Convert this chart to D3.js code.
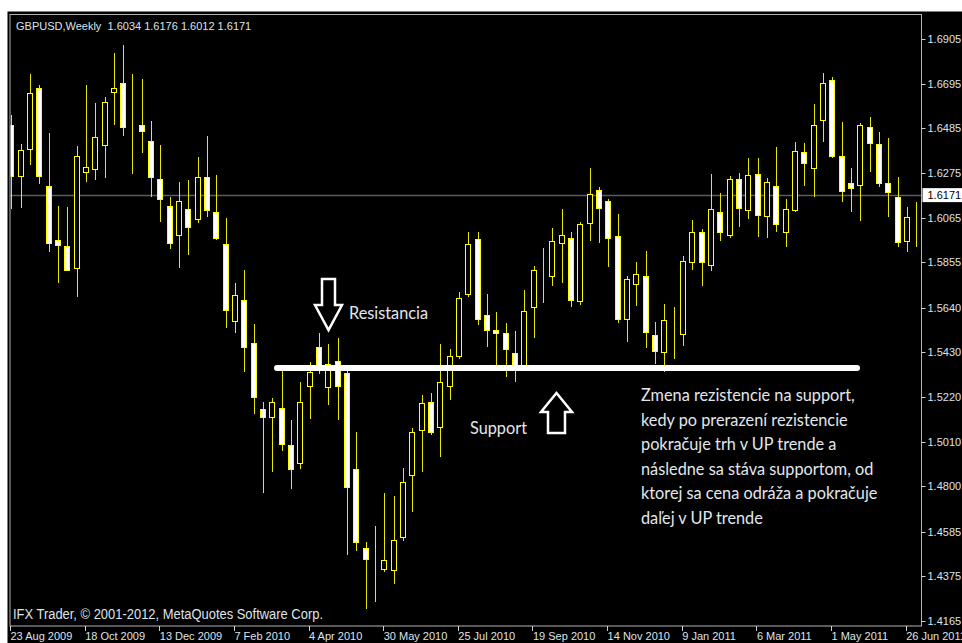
<!DOCTYPE html>
<html lang="en">
  <head>
    <meta charset="utf-8">
    <title>GBPUSD Weekly</title>
    <script src="https://d3js.org/d3.v7.min.js"></script>
    <style>
    body {margin: 0; background: #ffffff;}
    svg {display: block;}
    .axis-label {font-family: "Liberation Sans", Arial, sans-serif; font-size: 11px; fill: #dde3ea;}
    .note {font-family: Lato, sans-serif; font-size: 16.3px; fill: #e2e7ee;}
    </style>
  </head>
  <body>
  <script>

  // weekly GBPUSD bars, first bar = week of 23 Aug 2009
  var open = [1.6501,1.6261,1.6388,1.6676,1.6214,1.5960,1.5931,1.5828,1.6280,1.6294,
    1.6407,1.6657,1.6699,1.6492,1.6501,1.6426,1.6247,1.6120,1.5983,1.6106,
    1.6059,1.6256,1.6092,1.5941,1.5578,1.5677,1.5475,1.5164,1.5126,1.5168,
    1.4994,1.4909,1.5272,1.5456,1.5267,1.5390,1.5333,1.4881,1.4509,1.4462,
    1.4410,1.4405,1.4561,1.4853,1.5065,1.5197,1.5079,1.5272,1.5413,1.5705,
    1.5964,1.5606,1.5536,1.5522,1.5427,1.5371,1.5644,1.5814,1.5790,1.5946,
    1.5969,1.5672,1.6040,1.6195,1.6143,1.5979,1.5588,1.5752,1.5790,1.5512,
    1.5432,1.5545,1.5517,1.5856,1.5997,1.5842,1.6092,1.5983,1.6247,1.6101,
    1.6271,1.6073,1.6214,1.5997,1.6101,1.6374,1.6299,1.6525,1.6713,1.6355,
    1.6228,1.6219,1.6492,1.6412,1.6228,1.6162,1.5955,1.6054];

  var high = [1.6548,1.6412,1.6742,1.6690,1.6464,1.6120,1.6115,1.6402,1.6690,1.6605,
    1.6633,1.6840,1.6878,1.6742,1.6718,1.6520,1.6407,1.6162,1.6233,1.6242,
    1.6351,1.6450,1.6266,1.6063,1.5757,1.5818,1.5564,1.5197,1.5216,1.5343,
    1.5112,1.5291,1.5385,1.5522,1.5470,1.5498,1.5343,1.5055,1.4537,1.4613,
    1.4768,1.4754,1.4886,1.5074,1.5230,1.5239,1.5470,1.5446,1.5715,1.5997,
    1.5997,1.5705,1.5621,1.5569,1.5531,1.5724,1.5837,1.5922,1.6016,1.6106,
    1.5997,1.6045,1.6299,1.6209,1.6153,1.6082,1.5790,1.5856,1.5908,1.5574,
    1.5658,1.5644,1.5884,1.6054,1.6012,1.6271,1.6181,1.6261,1.6275,1.6346,
    1.6346,1.6252,1.6398,1.6153,1.6421,1.6417,1.6600,1.6746,1.6727,1.6516,
    1.6299,1.6511,1.6539,1.6468,1.6440,1.6256,1.6115,1.6139];

  var low = [1.6106,1.6110,1.6313,1.6224,1.5903,1.5757,1.5814,1.5691,1.6233,1.6242,
    1.6252,1.6501,1.6450,1.6271,1.6370,1.6162,1.6045,1.5917,1.5828,1.5889,
    1.6040,1.6068,1.5960,1.5545,1.5522,1.5338,1.5140,1.4768,1.4867,1.4966,
    1.4787,1.4881,1.5117,1.5329,1.5183,1.5112,1.4476,1.4495,1.4222,1.4255,
    1.4396,1.4340,1.4542,1.4679,1.4867,1.5041,1.4938,1.5206,1.5399,1.5691,
    1.5559,1.5456,1.5371,1.5314,1.5291,1.5366,1.5498,1.5663,1.5743,1.5757,
    1.5644,1.5654,1.5955,1.5946,1.5832,1.5569,1.5479,1.5649,1.5451,1.5376,
    1.5338,1.5399,1.5460,1.5818,1.5743,1.5814,1.5955,1.5969,1.6021,1.6059,
    1.5974,1.5969,1.5997,1.5927,1.6092,1.6214,1.6162,1.6421,1.6346,1.6139,
    1.6092,1.6049,1.6280,1.6209,1.6068,1.5927,1.5903,1.5927];

  var close = [1.6261,1.6384,1.6652,1.6261,1.5946,1.5936,1.5818,1.6355,1.6304,1.6445,
    1.6610,1.6676,1.6492,1.6490,1.6473,1.6256,1.6153,1.5946,1.6143,1.6021,
    1.6256,1.6101,1.5969,1.5630,1.5701,1.5456,1.5220,1.5126,1.5197,1.4999,
    1.4881,1.5197,1.5338,1.5371,1.5376,1.5272,1.4796,1.4537,1.4457,1.4460,
    1.4453,1.4547,1.4820,1.5055,1.5192,1.5055,1.5291,1.5413,1.5687,1.5941,
    1.5588,1.5536,1.5522,1.5446,1.5371,1.5625,1.5818,1.5812,1.5955,1.5983,
    1.5677,1.6035,1.6176,1.6110,1.5969,1.5588,1.5776,1.5800,1.5526,1.5437,
    1.5583,1.5543,1.5861,1.5997,1.5856,1.6106,1.5997,1.6247,1.6110,1.6266,
    1.6077,1.6233,1.6035,1.6106,1.6379,1.6322,1.6501,1.6699,1.6355,1.6190,
    1.6205,1.6501,1.6417,1.6228,1.6186,1.5950,1.6068,1.6052];

  var priceTicks = [1.6905, 1.6695, 1.6485, 1.6275, 1.6065, 1.5855, 1.5640,
    1.5430, 1.5220, 1.5010, 1.4800, 1.4585, 1.4375, 1.4165];

  var timeLabels = ["23 Aug 2009", "18 Oct 2009", "13 Dec 2009", "7 Feb 2010", "4 Apr 2010",
    "30 May 2010", "25 Jul 2010", "19 Sep 2010", "14 Nov 2010", "9 Jan 2011",
    "6 Mar 2011", "1 May 2011", "26 Jun 2011"];
  var timeLabelBars = [0, 8, 16, 24, 32, 40, 48, 56, 64, 72, 80, 88, 96];

  var lastPrice = 1.6171;
  var levelPrice = 1.5357;
  var header = "GBPUSD,Weekly  1.6034 1.6176 1.6012 1.6171";
  var noteLines = ["Zmena rezistencie na support,",
    "kedy po prerazení rezistencie",
    "pokračuje trh v UP trende a",
    "následne sa stáva supportom, od",
    "ktorej sa cena odráža a pokračuje",
    "daľej v UP trende"];

  var w = 962;
  var h = 643;
  var plot = {left: 10, top: 14.5, right: 921.5, bottom: 626};

  var data = open.map(function(o, i) {
    return {i: i, open: o, high: high[i], low: low[i], close: close[i]};
  });

  var svg = d3.select("body")
      .append("svg")
      .attr("width", w)
      .attr("height", h);

  var xScale = d3.scaleLinear()
      .domain([0, data.length - 1])
      .range([11.7, 11.7 + 9.33 * (data.length - 1)]);

  var yScale = d3.scaleLinear()
      .domain([1.4165, 1.6905])
      .range([621, 39.3]);

  // black terminal background
  svg.append("rect")
     .attr("x", 7.5)
     .attr("y", 11.5)
     .attr("width", w - 7.5)
     .attr("height", h - 11.5)
     .attr("fill", "#000000");

  // current price line
  svg.append("line")
     .attr("x1", plot.left)
     .attr("x2", plot.right)
     .attr("y1", Math.round(yScale(lastPrice)) + 0.5)
     .attr("y2", Math.round(yScale(lastPrice)) + 0.5)
     .attr("stroke", "#545c66")
     .attr("stroke-width", 1.5);

  // candles
  var candles = svg.append("g").attr("clip-path", "url(#plotclip)");

  svg.append("clipPath")
     .attr("id", "plotclip")
     .append("rect")
     .attr("x", plot.left + 0.5)
     .attr("y", plot.top)
     .attr("width", plot.right - plot.left - 0.5)
     .attr("height", plot.bottom - plot.top);

  candles.selectAll(".wick")
     .data(data)
     .join("line")
     .attr("class", "wick")
     .attr("x1", d => Math.floor(xScale(d.i)) + 0.5)
     .attr("x2", d => Math.floor(xScale(d.i)) + 0.5)
     .attr("y1", d => Math.round(yScale(d.high)))
     .attr("y2", d => Math.round(yScale(d.low)))
     .attr("stroke", "#e8e800")
     .attr("stroke-width", 1);

  candles.selectAll(".body")
     .data(data)
     .join("rect")
     .attr("class", "body")
     .attr("x", d => Math.floor(xScale(d.i)) - 2.5)
     .attr("y", d => Math.round(yScale(Math.max(d.open, d.close))) + 0.5)
     .attr("width", 5)
     .attr("height", d => Math.round(yScale(Math.min(d.open, d.close))) - Math.round(yScale(Math.max(d.open, d.close))))
     .attr("fill", d => d.close < d.open ? "#ffffff" : "#000000")
     .attr("stroke", "#ffff00")
     .attr("stroke-width", 1);

  // frame
  svg.append("rect")
     .attr("x", plot.left)
     .attr("y", plot.top)
     .attr("width", plot.right - plot.left)
     .attr("height", plot.bottom - plot.top)
     .attr("fill", "none")
     .attr("stroke", "#b4b4b4")
     .attr("stroke-width", 1);

  // price scale
  var yAxis = svg.append("g");
  yAxis.selectAll("line")
     .data(priceTicks)
     .join("line")
     .attr("x1", plot.right)
     .attr("x2", plot.right + 4)
     .attr("y1", d => Math.round(yScale(d)) + 0.5)
     .attr("y2", d => Math.round(yScale(d)) + 0.5)
     .attr("stroke", "#d0d0d0");
  yAxis.selectAll("text")
     .data(priceTicks)
     .join("text")
     .attr("class", "axis-label")
     .attr("x", plot.right + 6)
     .attr("y", d => yScale(d))
     .attr("dy", "0.36em")
     .text(d => d.toFixed(4));

  svg.append("rect")
     .attr("x", plot.right + 1)
     .attr("y", yScale(lastPrice) - 7)
     .attr("width", w - plot.right - 1)
     .attr("height", 14)
     .attr("fill", "#ffffff");
  svg.append("text")
     .attr("class", "axis-label")
     .style("fill", "#000000")
     .attr("x", plot.right + 6)
     .attr("y", yScale(lastPrice))
     .attr("dy", "0.36em")
     .text(lastPrice.toFixed(4));

  // time scale
  var xAxis = svg.append("g");
  xAxis.selectAll("line")
     .data(timeLabelBars)
     .join("line")
     .attr("x1", d => Math.round(xScale(d) - 1.7) + 0.5)
     .attr("x2", d => Math.round(xScale(d) - 1.7) + 0.5)
     .attr("y1", plot.bottom)
     .attr("y2", plot.bottom + 5)
     .attr("stroke", "#d0d0d0");
  xAxis.selectAll("text")
     .data(timeLabelBars)
     .join("text")
     .attr("class", "axis-label")
     .attr("x", d => xScale(d) - 1.2)
     .attr("y", 640)
     .text((d, i) => timeLabels[i]);

  svg.append("text")
     .attr("class", "axis-label")
     .attr("x", 16)
     .attr("y", 30)
     .style("white-space", "pre")
     .text(header);

  svg.append("text")
     .attr("class", "axis-label")
     .style("font-size", "14px")
     .attr("x", 13)
     .attr("y", 619)
     .attr("textLength", 310)
     .attr("lengthAdjust", "spacingAndGlyphs")
     .text("IFX Trader, \u00a9 2001-2012, MetaQuotes Software Corp.");

  // support / resistance level
  svg.append("line")
     .attr("x1", 277)
     .attr("x2", 857)
     .attr("y1", yScale(levelPrice))
     .attr("y2", yScale(levelPrice))
     .attr("stroke", "#ffffff")
     .attr("stroke-width", 6)
     .attr("stroke-linecap", "round");

  svg.append("path")
     .attr("d", "M322,279 L335,279 L335,305 L342,305 L328.5,330 L315,305 L322,305 Z")
     .attr("fill", "#000000")
     .attr("stroke", "#ffffff")
     .attr("stroke-width", 2.5);

  svg.append("path")
     .attr("d", "M556.5,393 L572,412 L565,412 L565,433 L548,433 L548,412 L541,412 Z")
     .attr("fill", "#000000")
     .attr("stroke", "#ffffff")
     .attr("stroke-width", 2.5);

  svg.append("text")
     .attr("class", "note")
     .attr("x", 349)
     .attr("y", 319)
     .text("Resistancia");

  svg.append("text")
     .attr("class", "note")
     .attr("x", 470)
     .attr("y", 434)
     .text("Support");

  svg.append("g")
     .selectAll("text")
     .data(noteLines)
     .join("text")
     .attr("class", "note")
     .attr("x", 641)
     .attr("y", (d, i) => 401 + i * 24.5)
     .text(d => d);

  </script>
  </body>
</html>
